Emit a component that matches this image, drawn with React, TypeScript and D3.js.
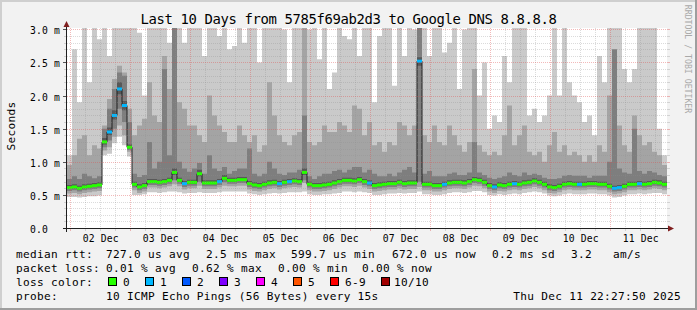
import React from "react";
import * as d3 from "d3";

// ---------------- data ----------------
const HOUR = 3600 * 1000;
const END_TIME = Date.UTC(2025, 11, 11, 22, 27, 50);
const START_TIME = END_TIME - 240 * HOUR;
const COLUMN_HOURS = 2; // each value below covers 2 hours (120 columns = 10 days)

// median rtt (ms)
const median = [
  0.61, 0.62, 0.60, 0.62, 0.63, 0.64, 0.65, 1.30, 1.45, 1.70, 2.10, 1.85,
  1.22, 0.66, 0.62, 0.64, 0.70, 0.70, 0.69, 0.70, 0.72, 0.84, 0.72, 0.67,
  0.69, 0.69, 0.82, 0.68, 0.68, 0.68, 0.70, 0.75, 0.72, 0.72, 0.73, 0.73,
  0.67, 0.65, 0.64, 0.66, 0.68, 0.69, 0.67, 0.69, 0.70, 0.71, 0.70, 0.84,
  0.66, 0.64, 0.64, 0.65, 0.66, 0.68, 0.70, 0.72, 0.72, 0.71, 0.73, 0.70,
  0.68, 0.64, 0.65, 0.66, 0.67, 0.67, 0.69, 0.67, 0.68, 0.68, 2.52, 0.66,
  0.66, 0.64, 0.64, 0.66, 0.68, 0.69, 0.69, 0.68, 0.70, 0.73, 0.72, 0.69,
  0.64, 0.62, 0.65, 0.64, 0.66, 0.67, 0.66, 0.68, 0.69, 0.71, 0.69, 0.66,
  0.62, 0.61, 0.63, 0.66, 0.67, 0.66, 0.66, 0.66, 0.67, 0.67, 0.66, 0.66,
  0.63, 0.60, 0.61, 0.63, 0.66, 0.66, 0.67, 0.66, 0.67, 0.69, 0.68, 0.66,
];

// lost pings out of 10
const lossCount = [
  0, 0, 0, 0, 0, 0, 0, 0, 1, 1, 1, 1,
  0, 0, 0, 0, 0, 0, 0, 0, 0, 0, 0, 1,
  0, 0, 0, 0, 0, 0, 1, 0, 0, 0, 0, 0,
  0, 0, 0, 0, 0, 0, 1, 0, 1, 0, 0, 0,
  0, 0, 0, 0, 0, 0, 0, 0, 0, 0, 0, 0,
  1, 0, 0, 0, 0, 0, 0, 0, 0, 0, 1, 0,
  0, 0, 0, 1, 0, 0, 0, 0, 0, 0, 0, 0,
  0, 1, 0, 0, 0, 1, 0, 0, 0, 0, 0, 0,
  0, 0, 0, 0, 0, 0, 1, 0, 0, 0, 0, 0,
  0, 1, 1, 0, 0, 0, 1, 0, 0, 0, 0, 0,
];

// sorted ping rtts (ms): 2nd..5th lowest, 6th..9th
const ping2 = [
  0.47, 0.47, 0.46, 0.47, 0.48, 0.48, 0.49, 1.10, 1.12, 1.28, 1.38, 1.25,
  1.08, 0.50, 0.50, 0.51, 0.54, 0.54, 0.53, 0.54, 0.55, 0.55, 0.54, 0.52,
  0.53, 0.53, 0.54, 0.53, 0.53, 0.53, 0.54, 0.55, 0.55, 0.55, 0.55, 0.55,
  0.52, 0.51, 0.50, 0.51, 0.52, 0.53, 0.52, 0.53, 0.54, 0.54, 0.54, 0.55,
  0.51, 0.50, 0.50, 0.51, 0.51, 0.52, 0.53, 0.55, 0.55, 0.54, 0.55, 0.54,
  0.53, 0.50, 0.50, 0.51, 0.52, 0.52, 0.53, 0.52, 0.53, 0.53, 0.55, 0.51,
  0.51, 0.50, 0.50, 0.51, 0.53, 0.54, 0.54, 0.53, 0.54, 0.56, 0.56, 0.54,
  0.50, 0.49, 0.51, 0.50, 0.51, 0.52, 0.51, 0.53, 0.54, 0.55, 0.54, 0.52,
  0.49, 0.48, 0.49, 0.51, 0.52, 0.51, 0.51, 0.51, 0.52, 0.52, 0.51, 0.51,
  0.49, 0.46, 0.47, 0.49, 0.51, 0.51, 0.52, 0.51, 0.52, 0.53, 0.53, 0.51,
];
const ping3 = [
  0.52, 0.53, 0.51, 0.53, 0.54, 0.55, 0.56, 1.17, 1.22, 1.38, 1.55, 1.40,
  1.15, 0.57, 0.53, 0.55, 0.61, 0.61, 0.60, 0.61, 0.63, 0.66, 0.63, 0.58,
  0.60, 0.60, 0.64, 0.59, 0.59, 0.59, 0.61, 0.64, 0.63, 0.63, 0.64, 0.64,
  0.58, 0.56, 0.55, 0.57, 0.59, 0.60, 0.58, 0.60, 0.61, 0.62, 0.61, 0.68,
  0.57, 0.55, 0.55, 0.56, 0.57, 0.59, 0.61, 0.63, 0.63, 0.62, 0.64, 0.61,
  0.59, 0.55, 0.56, 0.57, 0.58, 0.58, 0.60, 0.58, 0.59, 0.59, 0.62, 0.57,
  0.57, 0.55, 0.55, 0.57, 0.59, 0.60, 0.60, 0.59, 0.61, 0.64, 0.63, 0.60,
  0.55, 0.53, 0.56, 0.55, 0.57, 0.58, 0.57, 0.59, 0.60, 0.62, 0.60, 0.57,
  0.53, 0.52, 0.54, 0.57, 0.58, 0.57, 0.57, 0.57, 0.58, 0.58, 0.57, 0.57,
  0.54, 0.51, 0.52, 0.54, 0.57, 0.57, 0.58, 0.57, 0.58, 0.60, 0.59, 0.57,
];
const ping4 = [
  0.56, 0.57, 0.55, 0.57, 0.58, 0.59, 0.60, 1.22, 1.32, 1.50, 1.80, 1.60,
  1.18, 0.61, 0.57, 0.59, 0.65, 0.65, 0.64, 0.65, 0.67, 0.72, 0.67, 0.62,
  0.64, 0.64, 0.70, 0.63, 0.63, 0.63, 0.65, 0.69, 0.67, 0.67, 0.68, 0.68,
  0.62, 0.60, 0.59, 0.61, 0.63, 0.64, 0.62, 0.64, 0.65, 0.66, 0.65, 0.72,
  0.61, 0.59, 0.59, 0.60, 0.61, 0.63, 0.65, 0.67, 0.67, 0.66, 0.68, 0.65,
  0.63, 0.59, 0.60, 0.61, 0.62, 0.62, 0.64, 0.62, 0.63, 0.63, 0.70, 0.61,
  0.61, 0.59, 0.59, 0.61, 0.63, 0.64, 0.64, 0.63, 0.65, 0.68, 0.67, 0.64,
  0.59, 0.57, 0.60, 0.59, 0.61, 0.62, 0.61, 0.63, 0.64, 0.66, 0.64, 0.61,
  0.57, 0.56, 0.58, 0.61, 0.62, 0.61, 0.61, 0.61, 0.62, 0.62, 0.61, 0.61,
  0.58, 0.55, 0.56, 0.58, 0.61, 0.61, 0.62, 0.61, 0.62, 0.64, 0.63, 0.61,
];
const ping5 = [
  0.59, 0.60, 0.58, 0.60, 0.61, 0.62, 0.63, 1.26, 1.40, 1.64, 2.02, 1.78,
  1.20, 0.64, 0.60, 0.62, 0.68, 0.68, 0.67, 0.68, 0.70, 0.80, 0.70, 0.65,
  0.67, 0.67, 0.78, 0.66, 0.66, 0.66, 0.68, 0.73, 0.70, 0.70, 0.71, 0.71,
  0.65, 0.63, 0.62, 0.64, 0.66, 0.67, 0.65, 0.67, 0.68, 0.69, 0.68, 0.80,
  0.64, 0.62, 0.62, 0.63, 0.64, 0.66, 0.68, 0.70, 0.70, 0.69, 0.71, 0.68,
  0.66, 0.62, 0.63, 0.64, 0.65, 0.65, 0.67, 0.65, 0.66, 0.66, 2.45, 0.64,
  0.64, 0.62, 0.62, 0.64, 0.66, 0.67, 0.67, 0.66, 0.68, 0.71, 0.70, 0.67,
  0.62, 0.60, 0.63, 0.62, 0.64, 0.65, 0.64, 0.66, 0.67, 0.69, 0.67, 0.64,
  0.60, 0.59, 0.61, 0.64, 0.65, 0.64, 0.64, 0.64, 0.65, 0.65, 0.64, 0.64,
  0.61, 0.58, 0.59, 0.61, 0.64, 0.64, 0.65, 0.64, 0.65, 0.67, 0.66, 0.64,
];
const ping6 = [
  0.65, 0.66, 0.64, 0.66, 0.67, 0.68, 0.69, 1.36, 1.52, 1.78, 2.20, 1.92,
  1.26, 0.70, 0.66, 0.68, 0.74, 0.74, 0.73, 0.74, 0.76, 0.90, 0.76, 0.71,
  0.73, 0.73, 0.88, 0.72, 0.72, 0.72, 0.74, 0.80, 0.76, 0.76, 0.77, 0.77,
  0.71, 0.69, 0.68, 0.70, 0.72, 0.73, 0.71, 0.73, 0.74, 0.75, 0.74, 0.90,
  0.70, 0.68, 0.68, 0.69, 0.70, 0.72, 0.74, 0.76, 0.76, 0.75, 0.77, 0.74,
  0.72, 0.68, 0.69, 0.70, 0.71, 0.71, 0.73, 0.71, 0.72, 0.72, 2.58, 0.70,
  0.70, 0.68, 0.68, 0.70, 0.72, 0.73, 0.73, 0.72, 0.74, 0.77, 0.76, 0.73,
  0.68, 0.66, 0.69, 0.68, 0.70, 0.71, 0.70, 0.72, 0.73, 0.75, 0.73, 0.70,
  0.66, 0.65, 0.67, 0.70, 0.71, 0.70, 0.70, 0.70, 0.71, 0.71, 0.70, 0.70,
  0.67, 0.64, 0.65, 0.67, 0.70, 0.70, 0.71, 0.70, 0.71, 0.73, 0.72, 0.70,
];
const ping7 = [
  0.74, 0.78, 0.74, 0.82, 0.78, 0.75, 0.78, 1.50, 1.80, 2.10, 2.35, 2.30,
  1.60, 0.82, 0.77, 0.80, 1.30, 0.90, 1.00, 2.40, 1.10, 3.10, 1.00, 0.90,
  0.85, 0.90, 0.98, 0.82, 1.10, 0.90, 0.86, 0.92, 0.82, 0.86, 0.90, 0.90,
  1.20, 0.82, 0.78, 0.82, 1.00, 0.90, 0.82, 0.80, 0.84, 0.84, 0.88, 1.70,
  0.78, 0.74, 0.78, 0.82, 0.82, 0.86, 0.88, 0.84, 0.88, 0.92, 0.92, 0.84,
  0.88, 0.82, 0.78, 0.78, 0.82, 0.78, 0.84, 0.88, 0.92, 0.84, 3.10, 0.82,
  0.86, 0.78, 0.78, 0.78, 0.82, 0.84, 0.80, 0.80, 0.84, 1.30, 0.84, 0.80,
  0.76, 0.74, 0.76, 0.78, 0.84, 0.80, 0.78, 0.84, 0.80, 0.82, 0.80, 0.76,
  0.74, 0.74, 0.75, 0.79, 0.80, 0.79, 0.79, 0.79, 0.76, 0.79, 0.79, 0.79,
  1.00, 2.70, 0.90, 0.84, 0.82, 1.50, 0.86, 0.82, 0.86, 0.84, 0.80, 0.78,
];
const ping8 = [
  0.95, 1.10, 1.35, 1.40, 1.10, 1.25, 1.20, 1.55, 1.95, 2.25, 2.45, 2.35,
  1.80, 1.40, 1.55, 1.65, 2.20, 1.70, 1.60, 2.60, 2.10, 3.10, 1.90, 1.80,
  1.55, 1.55, 1.40, 1.30, 2.00, 1.70, 1.55, 1.45, 1.30, 1.30, 1.55, 1.40,
  1.30, 1.40, 1.15, 1.25, 2.20, 1.70, 1.40, 1.30, 1.25, 1.40, 1.45, 3.10,
  1.30, 1.25, 1.30, 1.55, 1.45, 1.45, 1.60, 1.55, 1.45, 1.85, 1.80, 1.40,
  1.60, 1.25, 1.30, 1.15, 1.30, 1.25, 1.60, 1.55, 1.40, 1.55, 3.10, 1.40,
  1.30, 1.55, 1.30, 1.25, 1.55, 1.40, 1.25, 1.15, 1.30, 2.40, 1.25, 1.15,
  1.10, 1.15, 1.10, 1.40, 1.85, 1.25, 1.40, 1.55, 1.15, 1.10, 1.15, 1.00,
  1.25, 1.45, 1.15, 1.25, 1.10, 1.15, 1.10, 1.00, 1.10, 1.00, 1.25, 1.15,
  2.00, 2.60, 1.55, 1.25, 1.15, 1.70, 1.40, 1.25, 1.30, 1.15, 1.10, 0.95,
];
const ping9 = [
  1.10, 2.70, 1.90, 3.10, 2.20, 3.10, 2.85, 3.10, 2.60, 3.10, 3.10, 3.10,
  3.10, 3.10, 2.95, 2.00, 3.10, 3.10, 3.10, 3.10, 2.80, 3.10, 3.10, 2.80,
  3.10, 3.10, 3.10, 2.60, 3.10, 3.10, 2.90, 3.10, 2.70, 2.75, 3.10, 2.80,
  3.10, 3.10, 2.50, 3.10, 3.10, 3.10, 3.10, 3.00, 2.20, 3.10, 3.10, 3.10,
  3.00, 3.10, 2.55, 3.10, 2.10, 2.35, 3.10, 2.90, 2.85, 3.10, 2.60, 3.10,
  3.10, 1.90, 2.90, 3.10, 3.10, 2.15, 3.10, 2.60, 3.10, 3.00, 3.10, 3.10,
  2.60, 3.10, 3.10, 2.65, 2.80, 3.10, 2.10, 3.00, 3.10, 3.10, 2.00, 2.50,
  1.50, 1.70, 1.60, 2.60, 2.20, 3.10, 3.10, 3.10, 1.70, 1.80, 1.60, 1.70,
  2.00, 3.10, 2.00, 3.10, 2.20, 2.00, 1.90, 1.60, 1.70, 1.40, 2.60, 2.20,
  3.10, 3.10, 3.10, 2.40, 2.20, 2.40, 3.10, 3.10, 3.10, 3.10, 1.50, 1.10,
];

const yTickValues = [0, 0.5, 1.0, 1.5, 2.0, 2.5, 3.0];
const yTickLabels = ["0.0  ", "0.5 m", "1.0 m", "1.5 m", "2.0 m", "2.5 m", "3.0 m"];
const xTickDays = [2, 3, 4, 5, 6, 7, 8, 9, 10, 11];
const xTickLabels = ["02 Dec", "03 Dec", "04 Dec", "05 Dec", "06 Dec", "07 Dec", "08 Dec", "09 Dec", "10 Dec", "11 Dec"];

const lossLabels = ["0", "1", "2", "3", "4", "5", "6-9", "10/10"];
const lossColors = ["#26ff00", "#00b8ff", "#0059ff", "#7e00ff", "#ff00ff", "#ff5500", "#ff0000", "#a10000"];
const smokeColors = ["#cacaca", "#a4a4a4", "#7e7e7e", "#585858"];

const titleText = "Last 10 Days from 5785f69ab2d3 to Google DNS 8.8.8.8";
const medianStats = ["727.0 us avg", "2.5 ms max", "599.7 us min", "672.0 us now", "0.2 ms sd", "3.2", "am/s"];
const lossStats = ["0.01 % avg", "0.62 % max", "0.00 % min", "0.00 % now"];
const probeText = "10 ICMP Echo Pings (56 Bytes) every 15s";
const dateText = "Thu Dec 11 22:27:50 2025";

// ---------------- layout ----------------
const W = 697;
const H = 310;
const PL = 67, PR = 667, PT = 28, PB = 228;
const MONO = "'DejaVu Sans Mono', monospace";

function lossColor(n: number) {
  if (n <= 5) return lossColors[n];
  if (n < 10) return lossColors[6];
  return lossColors[7];
}

export default function App() {
  const x = d3.scaleUtc().domain([new Date(START_TIME), new Date(END_TIME)]).range([PL, PR]);
  const y = d3.scaleLinear().domain([0, 3]).range([PB, 29.4]);
  const yc = (v: number) => y(Math.min(v, 3.1));

  const cols = median.map((_, i) => ({ i, t: new Date(START_TIME + i * COLUMN_HOURS * HOUR) }));
  const pts = [...cols, { i: median.length - 1, t: new Date(END_TIME) }];

  const bandPath = (lo: number[], hi: number[]) =>
    d3.area<{ i: number; t: Date }>()
      .x((d) => x(d.t))
      .y0((d) => yc(lo[d.i]))
      .y1((d) => yc(hi[d.i]))
      .curve(d3.curveStepAfter)(pts) || "";

  const bands = [
    { lo: ping2, hi: ping9, c: smokeColors[0] },
    { lo: ping3, hi: ping8, c: smokeColors[1] },
    { lo: ping4, hi: ping7, c: smokeColors[2] },
    { lo: ping5, hi: ping6, c: smokeColors[3] },
  ];

  const medLine = d3.line<{ i: number; t: Date }>()
    .x((d) => x(d.t))
    .y((d) => yc(median[d.i]))
    .curve(d3.curveStepAfter)(pts) || "";

  // grid
  const minorY = d3.range(1, 31).filter((k) => k % 5 !== 0).map((k) => k / 10);
  const majorY = yTickValues.filter((v) => v > 0);
  const startD = new Date(START_TIME);
  const endD = new Date(END_TIME);
  const sixH = d3.utcHour.every(6)!.range(startD, endD).filter((d) => d.getUTCHours() !== 0);
  const days = d3.utcDay.range(startD, endD);
  const rowY = (v: number) => Math.round(y(v)) + 0.5;
  const colX = (d: Date) => Math.floor(x(d)) + 0.5;

  const minorCol = "rgba(143,143,143,0.32)";
  const majorCol = "rgba(222,79,79,0.4)";

  const legendBoxX = [108, 145, 182, 219, 256, 293, 330, 381];
  const legendLabelDx = [15, 15, 15, 15, 15, 15, 15, 13];
  const medX = [106, 206, 291, 392, 492, 571, 613];
  const lossX = [106, 192, 278, 362];

  const legendStyle: React.CSSProperties = { fontFamily: MONO, fontSize: 11.1, letterSpacing: 0.31, whiteSpace: "pre" };
  const axisStyle: React.CSSProperties = { fontFamily: MONO, fontSize: 9.72, letterSpacing: 0.15, whiteSpace: "pre" };

  return (
    <svg width={W} height={H} viewBox={`0 0 ${W} ${H}`} style={{ position: "absolute", left: 0, top: 0, display: "block" }}>
      <defs>
        <clipPath id="plotClip">
          <rect x={PL} y={PT} width={PR - PL} height={PB - PT} />
        </clipPath>
      </defs>
      <rect x={0} y={0} width={W} height={H} fill="#f2f2f2" />
      <rect x={0} y={0} width={W} height={2} fill="#cfcfcf" />
      <rect x={0} y={0} width={2} height={H} fill="#cfcfcf" />
      <rect x={W - 2} y={0} width={2} height={H} fill="#9e9e9e" />
      <rect x={0} y={H - 2} width={W} height={2} fill="#9e9e9e" />

      <rect x={PL} y={PT} width={PR - PL} height={PB - PT} fill="#ffffff" />

      <g clipPath="url(#plotClip)">
        {bands.map((b, k) => (
          <path key={k} d={bandPath(b.lo, b.hi)} fill={b.c} />
        ))}
        <path d={medLine} fill="none" stroke="#202020" strokeWidth={1} />
        {cols.map((d) => {
          const t1 = new Date(START_TIME + (d.i + 1) * COLUMN_HOURS * HOUR);
          return (
            <rect key={d.i} x={x(d.t)} width={x(t1) - x(d.t)} y={yc(median[d.i]) - 1.5} height={3} fill={lossColor(lossCount[d.i])} />
          );
        })}
      </g>

      {/* grid */}
      <g shapeRendering="crispEdges">
        {minorY.map((v) => (
          <g key={"my" + v}>
            <line x1={PL} x2={PR + 1} y1={rowY(v)} y2={rowY(v)} stroke={minorCol} strokeDasharray="1,1" />
            <line x1={PL - 3} x2={PL} y1={rowY(v)} y2={rowY(v)} stroke={minorCol} />
            <line x1={PR + 1} x2={PR + 3} y1={rowY(v)} y2={rowY(v)} stroke={minorCol} />
          </g>
        ))}
        {sixH.map((d) => (
          <g key={"mx" + d.getTime()}>
            <line x1={colX(d)} x2={colX(d)} y1={PT} y2={PB} stroke={minorCol} strokeDasharray="1,1" />
            <line x1={colX(d)} x2={colX(d)} y1={PB} y2={PB + 3} stroke={minorCol} />
          </g>
        ))}
        {majorY.map((v) => (
          <g key={"My" + v}>
            <line x1={PL} x2={PR + 1} y1={rowY(v)} y2={rowY(v)} stroke={majorCol} strokeDasharray="1,1" />
            <line x1={PL - 4} x2={PL} y1={rowY(v)} y2={rowY(v)} stroke="#555555" />
            <line x1={PR + 1} x2={PR + 3} y1={rowY(v)} y2={rowY(v)} stroke={majorCol} />
          </g>
        ))}
        {days.map((d) => (
          <g key={"Mx" + d.getTime()}>
            <line x1={colX(d)} x2={colX(d)} y1={PT} y2={PB} stroke={majorCol} strokeDasharray="1,1" />
            <line x1={colX(d)} x2={colX(d)} y1={PB} y2={PB + 3} stroke={majorCol} />
          </g>
        ))}
        {/* axes */}
        <line x1={PL - 4} x2={PR + 2} y1={PB + 0.5} y2={PB + 0.5} stroke="#1f1f1f" />
        <line x1={PL - 0.5} x2={PL - 0.5} y1={PB + 4} y2={PT - 2} stroke="#1f1f1f" />
      </g>
      <path d={`M${PR + 1},${PB - 2.5} L${PR + 7},${PB + 0.5} L${PR + 1},${PB + 3.5} Z`} fill="#801f1f" />
      <path d={`M${PL - 3.5},${PT - 1} L${PL - 0.5},${PT - 7} L${PL + 2.5},${PT - 1} Z`} fill="#801f1f" />

      {/* axis labels */}
      {yTickValues.map((v, k) => (
        <text key={"yl" + v} x={60} y={Math.round(y(v)) + 5} textAnchor="end" style={axisStyle} fill="#000">
          {yTickLabels[k]}
        </text>
      ))}
      {xTickDays.map((dd, k) => (
        <text key={"xl" + dd} x={x(new Date(Date.UTC(2025, 11, dd, 12)))} y={242} textAnchor="middle" style={axisStyle} fill="#000">
          {xTickLabels[k]}
        </text>
      ))}

      <text x={348.5} y={24} textAnchor="middle" style={{ fontFamily: MONO, fontSize: 13.9, letterSpacing: -0.36 }} fill="#000">
        {titleText}
      </text>
      <text transform="translate(15,126) rotate(-90)" textAnchor="middle" style={{ fontFamily: MONO, fontSize: 11.1, letterSpacing: 0.31 }} fill="#000">
        Seconds
      </text>
      <text transform="translate(685,59) rotate(90)" textAnchor="middle" style={{ fontFamily: MONO, fontSize: 8.2 }} fill="#a9a9a9">
        RRDTOOL / TOBI OETIKER
      </text>

      {/* legend */}
      <text x={16} y={258} style={legendStyle}>median rtt:</text>
      {medianStats.map((s, k) => (
        <text key={"ms" + k} x={medX[k]} y={258} style={legendStyle}>{s}</text>
      ))}
      <text x={16} y={272} style={legendStyle}>packet loss:</text>
      {lossStats.map((s, k) => (
        <text key={"ls" + k} x={lossX[k]} y={272} style={legendStyle}>{s}</text>
      ))}
      <text x={16} y={286} style={legendStyle}>loss color:</text>
      {lossLabels.map((s, k) => (
        <g key={"lc" + k}>
          <rect x={legendBoxX[k] + 0.5} y={277.5} width={8} height={8} fill={lossColors[k]} stroke="#000" shapeRendering="crispEdges" />
          <text x={legendBoxX[k] + legendLabelDx[k]} y={286} style={legendStyle}>{s}</text>
        </g>
      ))}
      <text x={16} y={300} style={legendStyle}>probe:</text>
      <text x={106} y={300} style={legendStyle}>{probeText}</text>
      <text x={681} y={300} textAnchor="end" style={legendStyle}>{dateText}</text>
    </svg>
  );
}
